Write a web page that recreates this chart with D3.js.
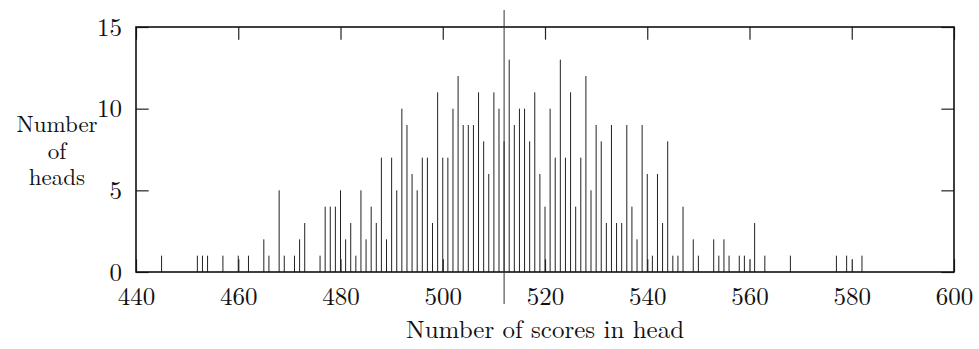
<!DOCTYPE html>
<html>
<head>
<meta charset="utf-8">
<script src="https://cdn.jsdelivr.net/npm/d3@7"></script>
<style>
  body { margin: 0; background: #fff; }
  svg text { font-family: "Latin Modern Roman", "CMU Serif", "Liberation Serif", serif; fill: #111; }
</style>
</head>
<body>
<svg id="chart" width="979" height="349"></svg>
<script>
// Data: score -> number of heads
const scores = [445, 452, 453, 454, 457, 460, 462, 465, 466, 468, 469, 471, 472, 473,
  476, 477, 478, 479, 480, 481, 482, 483, 484, 485, 486, 487, 488, 489, 490,
  491, 492, 493, 494, 495, 496, 497, 498, 499, 500, 501, 502, 503, 504, 505,
  506, 507, 508, 509, 510, 511, 512, 513, 514, 515, 516, 517, 518, 519, 520,
  521, 522, 523, 524, 525, 526, 527, 528, 529, 530, 531, 532, 533, 534, 535,
  536, 537, 538, 539, 540, 541, 542, 543, 544, 545, 546, 547, 549, 550, 553,
  554, 555, 556, 558, 559, 561, 563, 568, 577, 579, 582];
const heads = [1, 1, 1, 1, 1, 1, 1, 2, 1, 5, 1, 1, 2, 3,
  1, 4, 4, 4, 5, 2, 3, 1, 5, 2, 4, 3, 7, 2, 7,
  5, 10, 9, 6, 5, 7, 7, 3, 11, 7, 7, 10, 12, 9, 9,
  9, 11, 8, 6, 11, 10, 8, 13, 9, 10, 10, 8, 11, 6, 4,
  10, 7, 13, 7, 11, 4, 7, 12, 5, 9, 8, 3, 9, 3, 3,
  9, 4, 2, 9, 6, 1, 6, 3, 8, 1, 1, 4, 2, 1, 2,
  1, 2, 1, 1, 1, 3, 1, 1, 1, 1, 1];
const meanScore = 512;

const xTicks = [440, 460, 480, 500, 520, 540, 560, 580, 600];
const yTicks = [0, 5, 10, 15];
const yTitleLines = ["Number", "of", "heads"];

const svg = d3.select("#chart");
const plot = { left: 136, right: 954, top: 27, bottom: 272 };
const tick = 12.7;
const fontSize = "25px";

const x = d3.scaleLinear().domain([440, 600]).range([plot.left, plot.right]);
const y = d3.scaleLinear().domain([0, 15]).range([plot.bottom, plot.top]);

// Bars (impulses)
svg.append("g")
  .selectAll("line")
  .data(scores)
  .enter()
  .append("line")
  .attr("x1", (d) => x(d))
  .attr("x2", (d) => x(d))
  .attr("y1", y(0))
  .attr("y2", (d, i) => y(heads[i]))
  .attr("stroke", "#222")
  .attr("stroke-width", 1);

// Axes with inward ticks
const styleAxis = (g) => {
  g.select(".domain").remove();
  g.selectAll("line").attr("stroke", "#222").attr("stroke-width", 1.2);
  g.selectAll("text").style("font-size", fontSize).attr("fill", "#111");
};

svg.append("g")
  .attr("transform", `translate(0,${plot.bottom})`)
  .call(d3.axisBottom(x).tickValues(xTicks).tickSizeInner(-tick).tickSizeOuter(0).tickPadding(15))
  .call(styleAxis);

svg.append("g")
  .attr("transform", `translate(0,${plot.top})`)
  .call(d3.axisTop(x).tickValues(xTicks).tickSizeInner(-tick).tickSizeOuter(0).tickFormat(""))
  .call(styleAxis);

svg.append("g")
  .attr("transform", `translate(${plot.left},0)`)
  .call(d3.axisLeft(y).tickValues(yTicks).tickSizeInner(-tick).tickSizeOuter(0).tickPadding(14))
  .call(styleAxis);

svg.append("g")
  .attr("transform", `translate(${plot.right},0)`)
  .call(d3.axisRight(y).tickValues(yTicks).tickSizeInner(-tick).tickSizeOuter(0).tickFormat(""))
  .call(styleAxis);

// Frame
svg.append("rect")
  .attr("x", plot.left)
  .attr("y", plot.top)
  .attr("width", plot.right - plot.left)
  .attr("height", plot.bottom - plot.top)
  .attr("fill", "none")
  .attr("stroke", "#111")
  .attr("stroke-width", 1.6);

// Mean marker
svg.append("line")
  .attr("x1", x(meanScore))
  .attr("x2", x(meanScore))
  .attr("y1", 10)
  .attr("y2", 304)
  .attr("stroke", "#333")
  .attr("stroke-width", 1);

// Axis titles
svg.append("text")
  .attr("x", (plot.left + plot.right) / 2)
  .attr("y", 338)
  .attr("text-anchor", "middle")
  .style("font-size", fontSize)
  .text("Number of scores in head");

svg.append("g")
  .selectAll("text")
  .data(yTitleLines)
  .enter()
  .append("text")
  .attr("x", 57)
  .attr("y", (d, i) => 132 + i * 26.5)
  .attr("text-anchor", "middle")
  .style("font-size", "23px")
  .text((d) => d);
</script>
</body>
</html>
